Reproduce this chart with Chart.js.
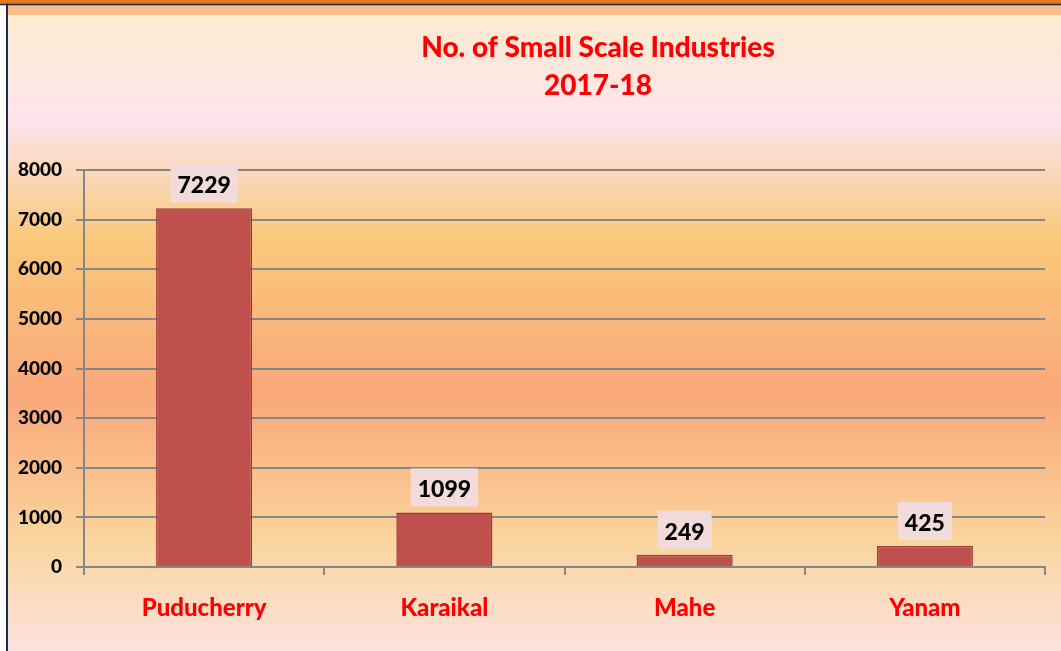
<!DOCTYPE html>
<html><head><meta charset="utf-8">
<script src="https://cdn.jsdelivr.net/npm/chart.js@4.4.1/dist/chart.umd.min.js"></script>
<style>html,body{margin:0;padding:0;background:#fff;overflow:hidden}canvas{display:block}</style>
</head><body>
<canvas id="c" width="1061" height="651"></canvas>
<script>
const titleLines = ['No. of Small Scale Industries', '2017-18'];
const categories = ['Puducherry', 'Karaikal', 'Mahe', 'Yanam'];
const industries = [7229, 1099, 249, 425];
const yTickValues = [0, 1000, 2000, 3000, 4000, 5000, 6000, 7000, 8000];

const FONT = 'Lato, "Open Sans", sans-serif';

const backgroundPlugin = {
  id: 'bg',
  beforeDraw(chart) {
    const ctx = chart.ctx, W = chart.width, H = chart.height;
    ctx.save();
    ctx.fillStyle = '#ffffff';
    ctx.fillRect(0, 0, W, H);
    const g = ctx.createLinearGradient(0, 15, 0, H);
    g.addColorStop(0, '#FCEBD0');
    g.addColorStop(0.165, '#FDE4EC');
    g.addColorStop(0.354, '#F9C87A');
    g.addColorStop(0.602, '#F9A87A');
    g.addColorStop(0.825, '#FAD59C');
    g.addColorStop(1, '#FCE2E0');
    ctx.fillStyle = g;
    ctx.fillRect(8, 15, W - 8, H - 15);
    ctx.fillStyle = '#FBBE8A';
    ctx.fillRect(8, 5, W - 8, 10);
    ctx.fillStyle = '#E8781E';
    ctx.fillRect(0, 0, W, 3.5);
    ctx.fillStyle = '#1F2D4A';
    ctx.fillRect(0, 3.5, W, 1.8);
    ctx.fillRect(6, 3.5, 2, H);
    ctx.restore();
  }
};

const titlePlugin = {
  id: 'titleText',
  afterDraw(chart) {
    const ctx = chart.ctx;
    ctx.save();
    ctx.fillStyle = '#FF0000';
    ctx.font = '900 28px ' + FONT;
    ctx.textAlign = 'center';
    ctx.textBaseline = 'alphabetic';
    ctx.fillText(titleLines[0], 598, 57);
    ctx.fillText(titleLines[1], 598, 95);
    ctx.restore();
  }
};

const valueLabelPlugin = {
  id: 'valueLabels',
  afterDatasetsDraw(chart) {
    const ctx = chart.ctx;
    const meta = chart.getDatasetMeta(0);
    ctx.save();
    ctx.font = '900 23px ' + FONT;
    ctx.textAlign = 'center';
    ctx.textBaseline = 'alphabetic';
    meta.data.forEach((bar, i) => {
      const text = String(chart.data.datasets[0].data[i]);
      const w = ctx.measureText(text).width + 14;
      const h = 38;
      const bottom = bar.y - 6;
      ctx.fillStyle = '#F2DCDB';
      ctx.fillRect(bar.x - w / 2, bottom - h, w, h);
      ctx.fillStyle = '#000000';
      ctx.fillText(text, bar.x, bottom - 9);
    });
    ctx.restore();
  }
};

function build() {
  new Chart(document.getElementById('c'), {
    type: 'bar',
    data: {
      labels: categories,
      datasets: [{
        data: industries,
        backgroundColor: '#C0504D',
        borderColor: '#9B3D3B',
        borderWidth: 1.5,
        categoryPercentage: 1,
        barPercentage: 0.4
      }]
    },
    options: {
      responsive: false,
      animation: false,
      devicePixelRatio: 1,
      layout: { padding: { top: 170, right: 16, bottom: 0, left: 0 } },
      plugins: { legend: { display: false }, title: { display: false }, tooltip: { enabled: false } },
      scales: {
        y: {
          min: 0, max: 8000,
          afterFit(s) { s.width = 84; },
          afterBuildTicks(s) { s.ticks = yTickValues.map(v => ({ value: v })); },
          ticks: {
            color: '#000', font: { family: FONT, size: 19, weight: '900' }, padding: 14,
            callback: (v) => String(v)
          },
          grid: { color: '#868686', lineWidth: 2, tickLength: 8 },
          border: { color: '#868686', width: 2 }
        },
        x: {
          afterFit(s) { s.height = 84; },
          ticks: { color: '#FF0000', font: { family: FONT, size: 24, weight: '900' }, padding: 19 },
          grid: { drawOnChartArea: false, color: '#868686', lineWidth: 2, tickLength: 8, offset: true },
          border: { color: '#868686', width: 2 }
        }
      }
    },
    plugins: [backgroundPlugin, valueLabelPlugin, titlePlugin]
  });
}
if (document.fonts && document.fonts.load) {
  Promise.all([document.fonts.load('900 24px Lato'), document.fonts.load('bold 18px Lato')]).then(build, build);
} else build();
</script>
</body></html>
